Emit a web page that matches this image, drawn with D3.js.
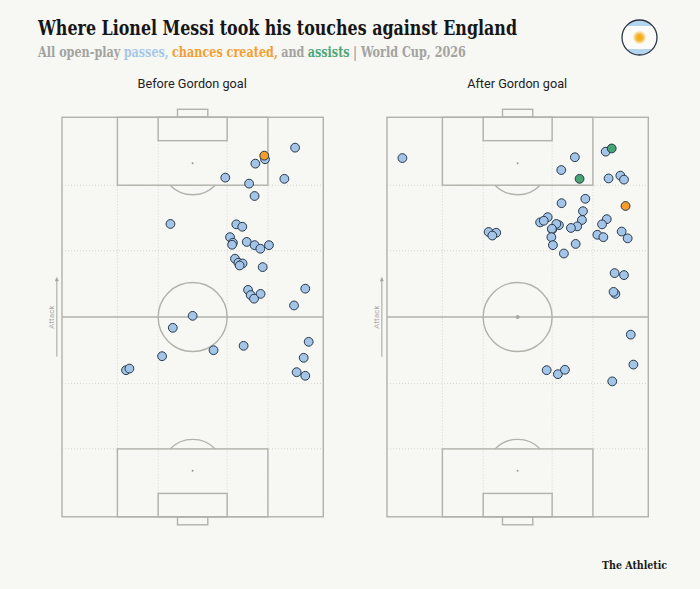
<!DOCTYPE html>
<html>
<head>
<meta charset="utf-8">
<script src="https://cdn.jsdelivr.net/npm/d3@7/dist/d3.min.js"></script>
<style>
html,body{margin:0;padding:0;background:#f7f7f4;}
svg{display:block;}
</style>
</head>
<body>
<div id="chart"></div>
<script>
// Touch locations, in percent of pitch width (x) and length (y, attacking upward)
const beforePasses = [[89.2,92.4],[77.7,89.5],[74.0,88.4],[62.5,84.9],[85.1,84.6],[71.6,83.4],[73.7,80.3],[41.5,73.3],[66.7,73.2],[69.0,72.6],[64.3,70.0],[65.4,68.6],[65.1,68.1],[70.7,68.8],[73.7,68.0],[75.9,67.1],[79.2,68.0],[66.2,64.6],[67.5,63.6],[69.1,63.4],[68.0,62.9],[76.8,62.5],[71.2,56.8],[72.2,55.5],[76.0,55.8],[73.5,54.6],[93.1,57.1],[88.8,52.9],[50.0,50.3],[42.4,47.3],[38.3,40.2],[58.0,41.7],[69.5,42.8],[94.4,43.8],[92.5,39.8],[89.8,36.2],[93.1,35.3],[24.5,36.7],[25.8,37.1]];
const beforeChances = [[77.4,90.4]];
const beforeAssists = [];
const afterPasses = [[5.9,89.8],[83.7,91.4],[71.9,90.0],[66.7,86.8],[84.8,84.7],[89.3,85.4],[90.7,84.4],[75.9,79.6],[66.8,78.5],[75.0,76.5],[84.1,74.5],[82.3,73.2],[74.6,74.3],[72.8,72.7],[70.4,72.3],[61.5,75.0],[58.6,73.7],[60.0,74.1],[65.8,73.0],[64.8,73.3],[63.2,71.9],[63.1,72.1],[62.9,70.0],[63.5,68.0],[72.2,68.3],[67.7,65.9],[80.5,70.6],[82.8,70.0],[89.8,71.4],[92.1,69.7],[38.9,71.3],[41.8,71.1],[40.3,70.4],[87.1,61.0],[90.7,60.5],[87.4,55.8],[86.7,56.3],[93.3,45.6],[94.3,38.1],[61.1,36.7],[65.4,35.7],[68.1,36.8],[86.2,33.9]];
const afterChances = [[91.3,77.8]];
const afterAssists = [[86.0,92.2],[73.7,84.6]];

const panelTitles = ["Before Gordon goal", "After Gordon goal"];
const subtitleParts = [
  ["All open-play", "#a3a3a0"], ["passes,", "#a8c8e8"], ["chances created,", "#f2a033"],
  ["and", "#a3a3a0"], ["assists", "#4fa878"], ["| World Cup, 2026", "#a3a3a0"]
];

// Pitch markings, in the same percent units
const boxX = [21.2, 78.8], sixX = [36.8, 63.2], goalX = [44.2, 55.8];
const boxDepth = 17, sixDepth = 5.85, goalDepth = 2, spotDepth = 11.5;
const gridX = [21.2, 36.8, 63.2, 78.8], gridY = [17, 33.4, 66.6, 83];

const W = 700, H = 589, pitchW = 261.3, pitchH = 399.5, pitchTop = 117.3;
const panelLeft = [62, 387];
const ink = "#b2b2ab", dot = "#d6d6d0";
const colors = {pass: "#a4c5e8", chance: "#f59e2b", assist: "#47a473"};
const slab = "'DejaVu Serif Condensed','DejaVu Serif',serif";

const svg = d3.select("#chart").append("svg").attr("width", W).attr("height", H);
svg.append("rect").attr("width", W).attr("height", H).attr("fill", "#f7f7f4");

const x = d3.scaleLinear().domain([0, 100]).range([0, pitchW]);
const y = d3.scaleLinear().domain([0, 100]).range([pitchH, 0]);

// Heading
svg.append("text").attr("x", 38).attr("y", 35)
  .attr("font-family", slab).attr("font-weight", 700)
  .attr("font-size", 20).attr("fill", "#161616")
  .attr("textLength", 479).attr("lengthAdjust", "spacingAndGlyphs")
  .text("Where Lionel Messi took his touches against England");

// Subtitle runs are laid out one after another, squeezed horizontally to a shared width
const subSize = 14, subWidth = 428, subGap = 3.2;
const subRuns = subtitleParts.map(([t, c]) => svg.append("text")
  .attr("font-family", slab).attr("font-weight", 700).attr("font-size", subSize).attr("fill", c).text(t));
const subNatural = subRuns.map(r => r.node().getComputedTextLength());
const subFactor = (subWidth - subGap * (subRuns.length - 1)) / d3.sum(subNatural);
let subX = 38;
subRuns.forEach((r, i) => {
  r.attr("transform", `translate(${subX},57) scale(${subFactor},1)`);
  subX += subNatural[i] * subFactor + subGap;
});

// Flag badge
const defs = svg.append("defs");
defs.append("clipPath").attr("id", "flagClip").append("circle").attr("cx", 639.5).attr("cy", 37.5).attr("r", 17.5);
const sun = defs.append("radialGradient").attr("id", "sun");
sun.append("stop").attr("offset", "0%").attr("stop-color", "#f2a90f");
sun.append("stop").attr("offset", "45%").attr("stop-color", "#f4b52e");
sun.append("stop").attr("offset", "100%").attr("stop-color", "#f4b52e").attr("stop-opacity", 0);
const flag = svg.append("g");
const flagClip = flag.append("g").attr("clip-path", "url(#flagClip)");
flagClip.append("rect").attr("x", 620).attr("y", 19).attr("width", 40).attr("height", 38).attr("fill", "#b4d5f0");
flagClip.append("rect").attr("x", 620).attr("y", 26).attr("width", 40).attr("height", 23).attr("fill", "#fbfbf9");
flag.append("circle").attr("cx", 639.5).attr("cy", 37.5).attr("r", 7).attr("fill", "url(#sun)");
flag.append("circle").attr("cx", 639.5).attr("cy", 37.5).attr("r", 17.5).attr("fill", "none").attr("stroke", "#2b3640").attr("stroke-width", 1.3);

function drawPanel(left, title, passes, chances, assists) {
  const g = svg.append("g").attr("transform", `translate(${left},${pitchTop})`);

  g.append("text").attr("x", x(50) - 0.5).attr("y", -29).attr("text-anchor", "middle")
    .attr("font-family", "Roboto,sans-serif").attr("font-size", 12.7).attr("fill", "#222").text(title);

  // Dotted guides
  g.selectAll("line.gx").data(gridX).join("line").attr("class", "gx")
    .attr("x1", d => x(d)).attr("x2", d => x(d)).attr("y1", y(100)).attr("y2", y(0))
    .attr("stroke", dot).attr("stroke-width", 1).attr("stroke-dasharray", "1 2");
  g.selectAll("line.gy").data(gridY).join("line").attr("class", "gy")
    .attr("x1", x(0)).attr("x2", x(100)).attr("y1", d => y(d)).attr("y2", d => y(d))
    .attr("stroke", dot).attr("stroke-width", 1).attr("stroke-dasharray", "1 2");

  const line = {fill: "none", stroke: ink, "stroke-width": 1.4};
  const shape = sel => { Object.entries(line).forEach(([k, v]) => sel.attr(k, v)); return sel; };
  const rect = (x0, x1, y0, y1) => shape(g.append("rect"))
    .attr("x", x(x0)).attr("width", x(x1) - x(x0)).attr("y", y(y1)).attr("height", y(y0) - y(y1));

  rect(0, 100, 0, 100);
  shape(g.append("line")).attr("x1", x(0)).attr("x2", x(100)).attr("y1", y(50)).attr("y2", y(50));

  const circleR = x(13.2);
  shape(g.append("circle")).attr("cx", x(50)).attr("cy", y(50)).attr("r", circleR);
  g.append("circle").attr("cx", x(50)).attr("cy", y(50)).attr("r", 2).attr("fill", "#a8a8a2");

  // Both ends of the pitch
  [[100, -1], [0, 1]].forEach(([end, dir]) => {
    const yy = d => end + dir * d;
    const arc = d3.arc().innerRadius(31.5).outerRadius(31.5);
    const spot = yy(spotDepth);
    const half = Math.acos((y(100 - boxDepth) - y(100 - spotDepth)) / 31.5);
    const arcPath = dir < 0
      ? arc({startAngle: Math.PI - half, endAngle: Math.PI + half})
      : arc({startAngle: -half, endAngle: half});
    shape(g.append("path")).attr("transform", `translate(${x(50)},${y(spot)})`).attr("d", arcPath);
    const lo = d => Math.min(yy(0), yy(d)), hi = d => Math.max(yy(0), yy(d));
    rect(boxX[0], boxX[1], lo(boxDepth), hi(boxDepth));
    rect(sixX[0], sixX[1], lo(sixDepth), hi(sixDepth));
    rect(goalX[0], goalX[1], Math.min(yy(0), yy(-goalDepth)), Math.max(yy(0), yy(-goalDepth)));
    g.append("circle").attr("cx", x(50)).attr("cy", y(spot)).attr("r", 1).attr("fill", "#99998f");
  });

  // Direction of play
  const arrowX = -5.2;
  g.append("line").attr("x1", arrowX).attr("x2", arrowX).attr("y1", 239.4).attr("y2", 162)
    .attr("stroke", ink).attr("stroke-width", 1.2);
  g.append("path").attr("d", `M${arrowX - 2},${164} L${arrowX},${159.5} L${arrowX + 2},${164} Z`).attr("fill", "#a8a8a2");
  g.append("text").attr("transform", `translate(${arrowX - 2.6},${y(50)}) rotate(-90)`).attr("text-anchor", "middle")
    .attr("font-family", "Roboto,sans-serif").attr("font-size", 7.6).attr("fill", "#a9a9a4").attr("letter-spacing", 0.3).text("Attack");

  // Touches, with key actions on top
  [[passes, colors.pass], [chances, colors.chance], [assists, colors.assist]].forEach(([pts, fill]) => {
    g.append("g").selectAll("circle").data(pts).join("circle")
      .attr("cx", d => x(d[0])).attr("cy", d => y(d[1])).attr("r", 4.4)
      .attr("fill", fill).attr("stroke", "#26384a").attr("stroke-width", 1);
  });
}

drawPanel(panelLeft[0], panelTitles[0], beforePasses, beforeChances, beforeAssists);
drawPanel(panelLeft[1], panelTitles[1], afterPasses, afterChances, afterAssists);

// Publisher mark
svg.append("text").attr("x", 602).attr("y", 569)
  .attr("font-family", slab).attr("font-weight", 700)
  .attr("font-size", 11.5).attr("fill", "#1a1a1a")
  .attr("textLength", 65).attr("lengthAdjust", "spacingAndGlyphs").text("The Athletic");
</script>
</body>
</html>
